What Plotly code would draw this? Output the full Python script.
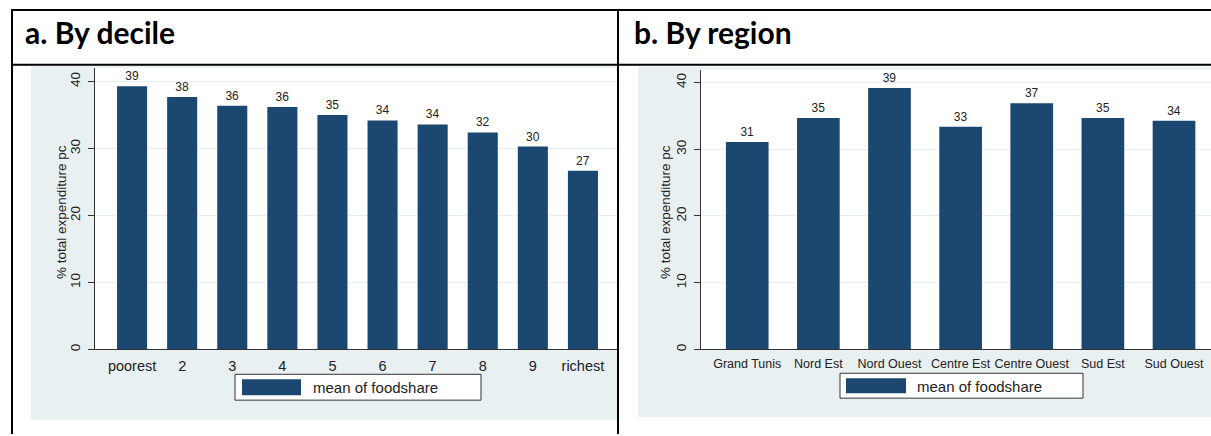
import plotly.graph_objects as go

# ---------------- data ----------------
decile_labels = ["poorest", "2", "3", "4", "5", "6", "7", "8", "9", "richest"]
decile_foodshare = [39.3, 37.7, 36.4, 36.2, 35.0, 34.2, 33.6, 32.4, 30.3, 26.7]

region_labels = ["Grand Tunis", "Nord Est", "Nord Ouest", "Centre Est",
                 "Centre Ouest", "Sud Est", "Sud Ouest"]
region_foodshare = [31.1, 34.7, 39.2, 33.4, 36.9, 34.7, 34.3]

y_ticks = [0, 10, 20, 30, 40]
series_name = "mean of foodshare"
y_title = "% total expenditure pc"
panel_titles = ["a. By decile", "b. By region"]

# ---------------- styling ----------------
W, H = 1211, 436
BAR = "#1c4770"
PANEL_BG = "#e9f0f2"
GRID = "#e4edef"
FONT = "Liberation Sans, Arial, sans-serif"


def X(px):
    return px / W


def Y(py):
    return 1 - py / H


fig = go.Figure()

fig.add_trace(go.Bar(
    x=decile_labels, y=decile_foodshare, name=series_name,
    marker=dict(color=BAR, line=dict(width=0)),
    texttemplate="%{y:.0f}", textposition="outside",
    textfont=dict(size=12, color="#222", family=FONT),
    cliponaxis=False, showlegend=False, xaxis="x", yaxis="y",
))
fig.add_trace(go.Bar(
    x=region_labels, y=region_foodshare, name=series_name,
    marker=dict(color=BAR, line=dict(width=0)),
    texttemplate="%{y:.0f}", textposition="outside",
    textfont=dict(size=12, color="#222", family=FONT),
    cliponaxis=False, showlegend=False, xaxis="x2", yaxis="y2",
))

common_y = dict(
    tickvals=y_ticks, tickangle=-90, ticks="outside", ticklen=6,
    tickcolor="#333", showline=True, linecolor="#333", linewidth=1,
    showgrid=True, gridcolor=GRID, gridwidth=1, zeroline=False,
    tickfont=dict(size=13.5, color="#222", family=FONT),
    ticklabelstandoff=3,
)
common_x = dict(
    type="category", showline=True, linecolor="#333", linewidth=1,
    ticks="", showgrid=False, zeroline=False,
)

fig.update_layout(
    width=W, height=H, autosize=False,
    margin=dict(l=0, r=0, t=0, b=0),
    paper_bgcolor="white", plot_bgcolor="rgba(0,0,0,0)",
    bargap=0.4, showlegend=False,
    font=dict(family=FONT, color="#222"),
    xaxis=dict(common_x, domain=[X(95), X(617)], anchor="y",
               range=[-0.74, 9.68],
               tickfont=dict(size=14.5, color="#222", family=FONT),
               ticklabelstandoff=3),
    yaxis=dict(common_y, domain=[Y(351), Y(68)], anchor="x",
               range=[0, 42.08]),
    xaxis2=dict(common_x, domain=[X(701), X(1211)], anchor="y2",
                range=[-0.65, 6.52],
                tickfont=dict(size=12.5, color="#222", family=FONT),
                ticklabelstandoff=3),
    yaxis2=dict(common_y, domain=[Y(351), Y(70)], anchor="x2",
                range=[0, 41.94]),
)

shapes = []
# panel backgrounds
shapes.append(dict(type="rect", xref="paper", yref="paper",
                   x0=X(31), x1=X(617), y0=Y(422), y1=Y(66),
                   fillcolor=PANEL_BG, line=dict(width=0), layer="below"))
shapes.append(dict(type="rect", xref="paper", yref="paper",
                   x0=X(638), x1=X(1211), y0=Y(419), y1=Y(67),
                   fillcolor=PANEL_BG, line=dict(width=0), layer="below"))
# white plot regions
shapes.append(dict(type="rect", xref="paper", yref="paper",
                   x0=X(95), x1=X(617), y0=Y(351), y1=Y(68),
                   fillcolor="white", line=dict(width=0), layer="below"))
shapes.append(dict(type="rect", xref="paper", yref="paper",
                   x0=X(701), x1=X(1211), y0=Y(351), y1=Y(70),
                   fillcolor="white", line=dict(width=0), layer="below"))
# table borders
for (x0, y0, x1, y1) in [(11, 10, 1211, 10), (11, 65, 1211, 65),
                         (12, 9, 12, 436), (618, 9, 618, 436)]:
    shapes.append(dict(type="line", xref="paper", yref="paper",
                       x0=X(x0), x1=X(x1), y0=Y(y0), y1=Y(y1),
                       line=dict(color="black", width=2), layer="above"))
# manual legends
for (bx0, bx1, by0, by1, sx0, sx1, sy0, sy1) in [
        (235, 481, 376, 402, 242, 301, 381, 397),
        (840, 1083, 375, 400, 846, 906, 380, 395)]:
    shapes.append(dict(type="rect", xref="paper", yref="paper",
                       x0=X(bx0), x1=X(bx1), y0=Y(by1), y1=Y(by0),
                       fillcolor="white", line=dict(color="#333", width=1),
                       layer="above"))
    shapes.append(dict(type="rect", xref="paper", yref="paper",
                       x0=X(sx0), x1=X(sx1), y0=Y(sy1), y1=Y(sy0),
                       fillcolor=BAR, line=dict(width=0), layer="above"))
fig.update_layout(shapes=shapes)

annotations = []
# panel headings
annotations.append(dict(text=f"<b>{panel_titles[0]}</b>", xref="paper", yref="paper",
                        x=X(23), y=Y(32), xanchor="left", yanchor="middle",
                        showarrow=False,
                        font=dict(family="Lato, sans-serif", size=30, color="black")))
annotations.append(dict(text=f"<b>{panel_titles[1]}</b>", xref="paper", yref="paper",
                        x=X(632), y=Y(32), xanchor="left", yanchor="middle",
                        showarrow=False,
                        font=dict(family="Lato, sans-serif", size=30, color="black")))
# y titles
for xc in (61, 665):
    annotations.append(dict(text=y_title, xref="paper", yref="paper",
                            x=X(xc), y=Y(213), xanchor="center", yanchor="middle",
                            textangle=-90, showarrow=False,
                            font=dict(family=FONT, size=13.5, color="#222")))
# legend labels
annotations.append(dict(text=series_name, xref="paper", yref="paper",
                        x=X(311), y=Y(389), xanchor="left", yanchor="middle",
                        showarrow=False, font=dict(family=FONT, size=15, color="#222")))
annotations.append(dict(text=series_name, xref="paper", yref="paper",
                        x=X(915), y=Y(388), xanchor="left", yanchor="middle",
                        showarrow=False, font=dict(family=FONT, size=15, color="#222")))
fig.update_layout(annotations=annotations)

fig.write_html(
    "out.html",
    config={"displayModeBar": False},
    post_script="document.body.style.margin='0';document.body.style.overflow='hidden';",
)
